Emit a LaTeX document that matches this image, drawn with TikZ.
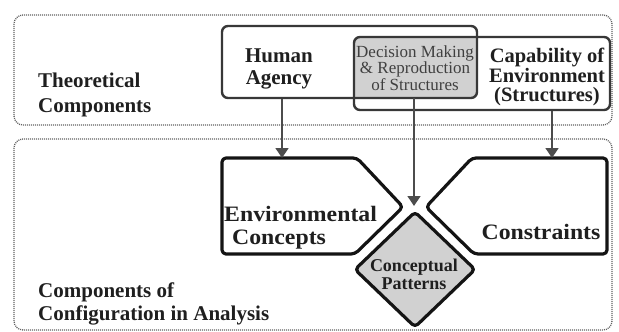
\documentclass[tikz,border=0pt]{standalone}
\usepackage{fontspec}
\setmainfont{Liberation Serif}
\newfontfamily\tms{Liberation Serif}
\newfontfamily\tmswide{Liberation Serif}[FakeStretch=1.08]
\usetikzlibrary{arrows.meta}
\begin{document}
\begin{tikzpicture}[x=1pt,y=-1pt,
  dotbox/.style={draw=black!62, line width=1.3pt, dash pattern=on 1pt off 1pt, rounded corners=9pt},
  theobox/.style={draw=black!78, line width=2.4pt, rounded corners=6pt, minimum width=255pt, minimum height=72pt, inner sep=0pt},
  boldshape/.style={draw=black!92, line width=3.2pt, rounded corners=4pt, line join=round},
  lbl/.style={inner sep=0pt, text=black!88},
  arr/.style={draw=black!70, line width=1.4pt, -{Triangle[width=13pt,length=10pt]}},
  grayfill/.style={fill=black!18},
]
\useasboundingbox (0,0) rectangle (619,332);
% dotted frames
\draw[dotbox] (14,15) rectangle (612,125);
\draw[dotbox] (14,139) rectangle (612,330);
% overlap fill
\begin{scope}
  \clip[rounded corners=6pt] (222,26) rectangle (477,98);
  \fill[grayfill, rounded corners=6pt] (354,37) rectangle (610,110);
\end{scope}
\node[theobox] (human) at (349.5,62) {};
\node[theobox, minimum width=256pt, minimum height=73pt] (capab) at (482,73.5) {};
% texts top
\node[lbl, align=left, anchor=west, font=\tms\bfseries\fontsize{21}{25}\selectfont] (theo) at (38,94.5) {Theoretical\\Components};
\node[lbl, align=center, font=\tms\bfseries\fontsize{21}{22}\selectfont] (humant) at (279,69) {Human\\Agency};
\node[lbl, align=center, text=black!75, font=\tms\fontsize{17}{15}\selectfont] (decis) at (415,68) {Decision Making\\\& Reproduction\\of Structures};
\node[lbl, align=center, font=\tms\bfseries\fontsize{20.5}{19.5}\selectfont] (capt) at (547,77) {Capability of\\Environment\\(Structures)};
% lower shapes
\draw[boldshape] (222,158) -- (357,158) -- (403,207) -- (355,254) -- (222,254) -- cycle;
\draw[boldshape] (607,158) -- (472,158) -- (426,207) -- (474,254) -- (607,254) -- cycle;
\draw[boldshape, grayfill] (415,212) -- (475,269.5) -- (415,327) -- (355,269.5) -- cycle;
\node[lbl, align=left, anchor=west, font=\tmswide\bfseries\fontsize{22}{23}\selectfont] (envt) at (224,227.5) {Environmental\\\hspace{8pt}Concepts};
\node[lbl, font=\tmswide\bfseries\fontsize{22}{23}\selectfont] (cons) at (541,232) {Constraints};
\node[lbl, align=center, font=\tms\bfseries\fontsize{18}{18}\selectfont] (cpt) at (414,274) {Conceptual\\Patterns};
\node[lbl, align=left, anchor=west, font=\tms\bfseries\fontsize{21}{23}\selectfont] (comp) at (38,303.5) {Components of\\Configuration in Analysis};
% arrows
\coordinate (envtop) at (282,158);
\coordinate (constop) at (552,158);
\coordinate (dtop) at (414,206);
\coordinate (dstart) at (414,98);
\draw[arr] (human.south -| envtop) -- (envtop);
\draw[arr] (capab.south -| constop) -- (constop);
\draw[arr] (dstart) -- (dtop);
\end{tikzpicture}
\end{document}
